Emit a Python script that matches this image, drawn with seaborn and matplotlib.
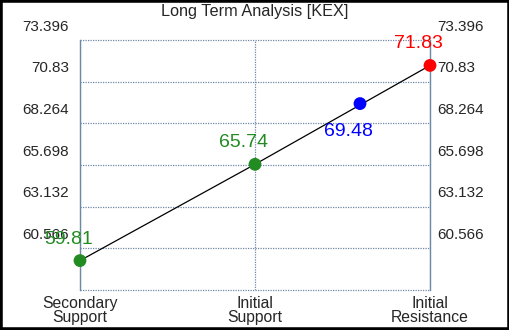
import pandas as pd
import matplotlib
matplotlib.use("Agg")
import matplotlib.pyplot as plt
import matplotlib.transforms as mtransforms
from matplotlib.patches import Rectangle
import seaborn as sns

# datos del grafico
categorias = ["Secondary\nSupport", "Initial\nSupport", "Initial\nResistance"]
niveles = [59.81, 65.74, 71.83]
precio_actual = 69.48
pos_actual = 1.6
ticks_y = [58.0, 60.566, 63.132, 65.698, 68.264, 70.83, 73.396]
etiquetas_y = ["", "60.566", "63.132", "65.698", "68.264", "70.83", "73.396"]
titulo = "Long Term Analysis [KEX]"

sns.set_style("white")
plt.rcParams["font.family"] = ["Liberation Sans", "DejaVu Sans"]

df_niveles = pd.DataFrame({"x": [0, 1, 2], "valor": niveles})
df_puntos = pd.DataFrame({
    "x": [0, 1, pos_actual, 2],
    "valor": [niveles[0], niveles[1], precio_actual, niveles[2]],
    "tipo": ["sup", "sup", "actual", "res"],
})
colores = {"sup": "#228B22", "actual": "#0000FF", "res": "#FF0000"}

fig = plt.figure(figsize=(5.1, 3.3), dpi=100)
ax = fig.add_axes([80 / 510, 40 / 330, 350 / 510, 250 / 330])

sns.lineplot(data=df_niveles, x="x", y="valor", color="black", linewidth=0.9, ax=ax)
sns.scatterplot(data=df_puntos, x="x", y="valor", hue="tipo", palette=colores,
                s=85, edgecolor="none", legend=False, ax=ax, zorder=5, clip_on=False)

ax.set_xlim(0, 2)
ax.set_ylim(ticks_y[0], ticks_y[-1])
ax.set_xticks([0, 1, 2])
ax.set_xticklabels(categorias, fontsize=11.3, linespacing=0.95)
ax.set_yticks(ticks_y)
ax.tick_params(axis="y", length=0, labelleft=False)
ax.tick_params(axis="x", length=0, pad=4)
ax.set_xlabel("")
ax.set_ylabel("")

gris = "#7088a8"
ax.grid(True, color=gris, linestyle=(0, (1, 1)), linewidth=0.9)
for linea in ax.get_ygridlines():
    linea.set_clip_on(False)
for lado in ["left", "right"]:
    ax.spines[lado].set_color(gris)
    ax.spines[lado].set_linewidth(1)
for lado in ["top", "bottom"]:
    ax.spines[lado].set_visible(False)

# etiquetas del eje y (desplazadas hacia arriba como en el original)
trans = mtransforms.blended_transform_factory(ax.transAxes, ax.transData)
for v, txt in zip(ticks_y, etiquetas_y):
    ax.annotate(txt, xy=(0, v), xycoords=trans, xytext=(-8, 9.5),
                textcoords="offset points", ha="right", va="center", fontsize=11)
    ax.annotate(txt, xy=(1, v), xycoords=trans, xytext=(5, 9.5),
                textcoords="offset points", ha="left", va="center", fontsize=11)

# etiquetas de valores
for _, fila in df_puntos.iterrows():
    dy = -20 if fila["tipo"] == "actual" else 15.5
    ax.annotate(f"{fila['valor']:.2f}", xy=(fila["x"], fila["valor"]),
                xytext=(-8.5, dy), textcoords="offset points",
                ha="center", va="center", fontsize=14, color=colores[fila["tipo"]],
                zorder=6)

fig.text(0.5, 1 - 16 / 330, titulo, ha="center", va="baseline", fontsize=11.7)

fig.patches.append(Rectangle((0, 0), 1, 1, transform=fig.transFigure, fill=False,
                             edgecolor="black", linewidth=4))

fig.savefig("out.png", dpi=100)
